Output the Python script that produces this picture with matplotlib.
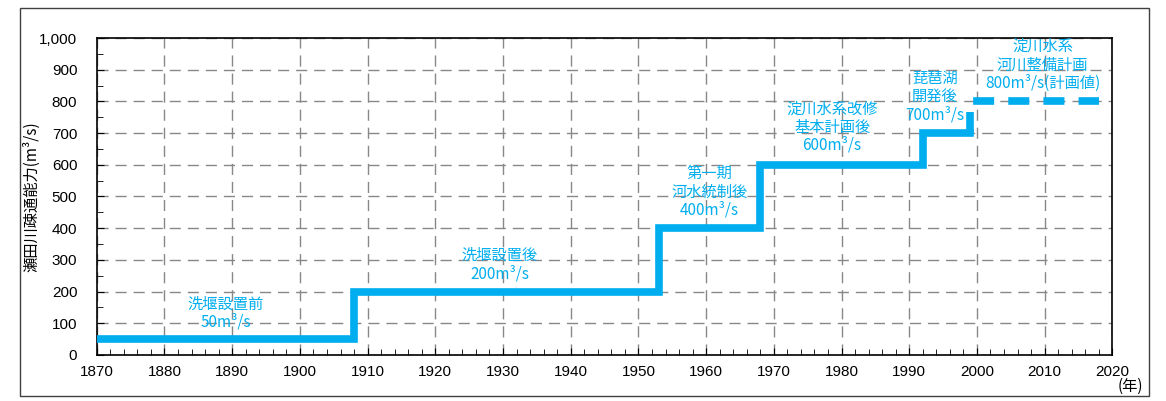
import matplotlib.pyplot as plt
from matplotlib.patches import Rectangle
from matplotlib.ticker import MultipleLocator, FuncFormatter

plt.rcParams['font.family'] = ['Noto Sans CJK JP', 'DejaVu Sans']

# step history of discharge capacity
years = [1870, 1908, 1953, 1968, 1992, 1999]
capacity = [50, 200, 400, 600, 700, 700]
# planned value
plan_years = [1999, 1999, 2018]
plan_capacity = [700, 800, 800]

labels = ['洗堰設置前\n50m³/s', '洗堰設置後\n200m³/s', '第一期\n河水統制後\n400m³/s',
          '淀川水系改修\n基本計画後\n600m³/s', '琵琶湖\n開発後\n700m³/s',
          '淀川水系\n河川整備計画\n800m³/s(計画値)']
label_x = [1889, 1929.5, 1960.5, 1978.6, 1993.8, 2009.7]
label_y = [132, 284, 514, 719, 814, 915]

blue = '#00aeef'

fig = plt.figure(figsize=(11.66, 4.01), dpi=100)
fig.patches.append(Rectangle((0.017, 0.013), 0.968, 0.968, transform=fig.transFigure,
                             fill=False, edgecolor='#404040', linewidth=1))
ax = fig.add_axes([0.083, 0.115, 0.871, 0.79])

ax.plot(years, capacity, drawstyle='steps-post', color=blue, linewidth=5.5,
        solid_joinstyle='miter', zorder=3)
ax.plot(plan_years, plan_capacity, color=blue, linewidth=5.5, dashes=(2.75, 1.85),
        dash_joinstyle='miter', dash_capstyle='butt', zorder=3)

for t, x, y in zip(labels, label_x, label_y):
    ax.text(x, y, t, color=blue, fontsize=11, ha='center', va='center', linespacing=1.1)

ax.set_xlim(1870, 2020)
ax.set_ylim(0, 1000)
ax.xaxis.set_major_locator(MultipleLocator(10))
ax.xaxis.set_minor_locator(MultipleLocator(2))
ax.yaxis.set_major_locator(MultipleLocator(100))
ax.yaxis.set_minor_locator(MultipleLocator(50))
ax.yaxis.set_major_formatter(FuncFormatter(lambda v, p: f'{int(v):,}'))
ax.tick_params(which='both', direction='in', labelsize=11, colors='black')
ax.tick_params(which='major', length=5)
ax.tick_params(which='minor', length=4)
ax.tick_params(axis='x', pad=7)
ax.tick_params(axis='y', pad=14)
for lab in ax.get_xticklabels() + ax.get_yticklabels():
    lab.set_family(['Liberation Sans', 'DejaVu Sans'])
ax.grid(True, which='major', color='#888888', linewidth=1, linestyle=(0, (8, 5)))
for s in ax.spines.values():
    s.set_linewidth(1.2)

ax.set_ylabel('瀬田川疎通能力(m³/s)', fontsize=11)
ax.yaxis.set_label_coords(-0.056, 0.5)
ax.text(1.018, -0.1, '(年)', transform=ax.transAxes, fontsize=11, ha='center', va='center')

plt.savefig('out.png')
